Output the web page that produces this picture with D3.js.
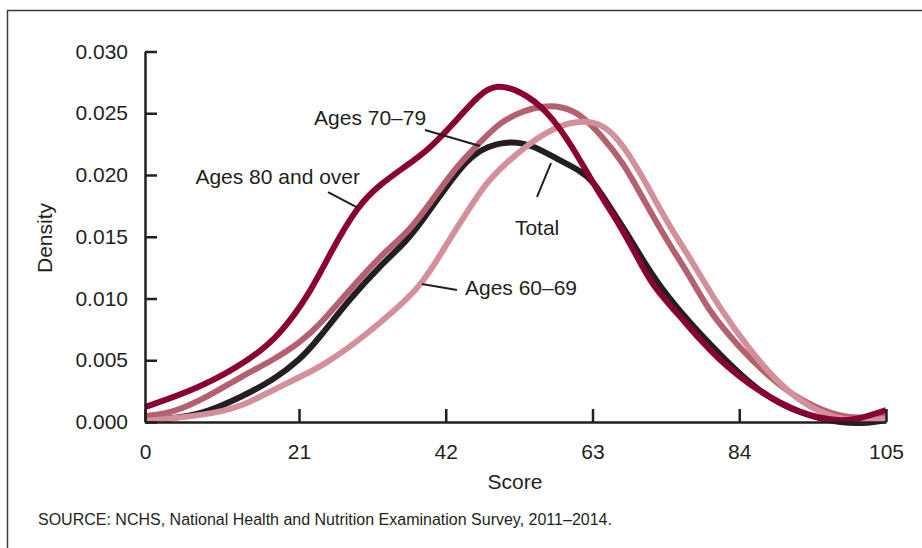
<!DOCTYPE html>
<html>
<head>
<meta charset="utf-8">
<script src="https://cdn.jsdelivr.net/npm/d3@7"></script>
<style>
  html, body { margin: 0; padding: 0; background: #fff; }
  svg { display: block; font-family: "Liberation Sans", Arial, sans-serif; }
</style>
</head>
<body>
<svg id="chart" width="922" height="548"></svg>
<script>
// ---- Data (score, density) ----
const xTicks = [0, 21, 42, 63, 84, 105];
const yTicks = [0, 0.005, 0.010, 0.015, 0.020, 0.025, 0.030];

const total = [[0,0.00008],[5.2,0.0004],[8.5,0.00081],[13.1,0.00202],[17.5,0.0034],[21.1,0.00502],[23.6,0.0066],[28.3,0.0100],[32.6,0.01265],[36.5,0.01469],[38.7,0.01636],[42.2,0.01913],[45.0,0.02121],[47.9,0.02237],[51.6,0.02277],[54.5,0.02237],[57.9,0.02131],[61.2,0.02037],[63.1,0.0195],[65.5,0.01741],[67.9,0.0153],[70.2,0.01312],[72.7,0.01093],[76.5,0.0083],[81.2,0.00547],[86.9,0.00235],[92.7,0.00065],[98.4,-0.0001],[102.7,-0.0001],[105,0.00016]];

const ages7079 = [[0,0.00049],[3.8,0.00073],[8.5,0.00202],[13.0,0.00364],[17.5,0.00502],[21.1,0.0064],[24.0,0.0079],[27.3,0.01008],[32.6,0.01346],[36.9,0.0155],[40.2,0.01808],[43.6,0.02075],[46.9,0.02263],[49.8,0.02431],[53.1,0.0252],[55.9,0.02561],[58.8,0.02553],[61.2,0.02496],[64.5,0.02308],[67.4,0.02097],[69.8,0.01854],[72.2,0.01611],[74.5,0.01393],[77.0,0.01174],[79.8,0.00883],[84.1,0.00599],[88.4,0.00356],[92.7,0.00178],[97.0,0.00065],[101.2,0.00024],[105,0.00057]];

const ages6069 = [[0,0.00008],[8.5,0.00057],[13.0,0.00121],[17.5,0.00259],[21.1,0.00364],[24.0,0.00445],[28.3,0.00607],[32.6,0.00802],[36.5,0.00995],[38.7,0.01135],[40.7,0.01305],[43.0,0.0152],[45.5,0.01741],[47.9,0.01945],[50.8,0.02107],[53.6,0.02237],[56.5,0.0235],[59.8,0.02431],[63.1,0.02439],[65.9,0.02358],[69.4,0.02065],[71.7,0.01822],[74.1,0.01579],[76.5,0.01368],[78.8,0.0115],[81.7,0.00883],[85.5,0.00583],[89.8,0.003],[94.1,0.00113],[98.4,0.00024],[101.2,0.00008],[105,0.00024]];

const ages80 = [[0,0.00121],[7.5,0.00275],[14.3,0.00502],[18.4,0.00704],[22.6,0.01045],[25.4,0.01362],[29.4,0.01753],[32.6,0.01923],[36.0,0.0206],[39.7,0.02212],[43.0,0.02409],[46.9,0.02662],[49.3,0.02734],[52.6,0.02684],[56.5,0.02526],[60.2,0.02227],[63.6,0.01879],[66.5,0.01636],[69.4,0.01336],[71.7,0.01093],[75.1,0.00883],[78.4,0.00664],[81.2,0.00502],[84.1,0.00364],[86.9,0.00251],[89.8,0.00154],[92.7,0.00081],[95.5,0.00032],[98.4,0.00008],[101.2,0.00024],[105,0.00097]];

const seriesNames  = ["Total", "Ages 70–79", "Ages 60–69", "Ages 80 and over"];
const seriesData   = [total, ages7079, ages6069, ages80];
const seriesColors = ["#231f20", "#b5606f", "#d3909a", "#8a0034"];

// Annotations: label text, label anchor (score, density), leader line ends
const annoText   = ["Ages 70–79", "Ages 80 and over", "Total", "Ages 60–69"];
const annoPos    = [[23.15, 0.02405], [29.73, 0.01927], [51.9, 0.01514], [44.75, 0.01028]];
const annoAnchor = ["start", "end", "start", "start"];
const annoLine   = [[[39.03,0.02364],[46.9,0.02235]], [[25.15,0.01862],[29.44,0.01733]], [[55.06,0.01822],[57.06,0.02097]], [[38.6,0.01117],[43.6,0.01069]]];

// ---- Drawing ----
const svg = d3.select("#chart");
const ink = "#231f20";

// frame
svg.append("rect").attr("x", 7.5).attr("y", 10.5).attr("width", 1000).attr("height", 1000)
  .attr("fill", "none").attr("stroke", "#3a3a3a").attr("stroke-width", 1.5);

const x = d3.scaleLinear().domain([0, 21, 105]).range([145, 299, 886]);
const y = d3.scaleLinear().domain([0, 0.03]).range([422, 51.5]);

// curves
const line = d3.line().x(d => x(d[0])).y(d => y(d[1])).curve(d3.curveBasis);
svg.append("g").selectAll("path").data(seriesData).join("path")
  .attr("d", line)
  .attr("fill", "none")
  .attr("stroke", (d, i) => seriesColors[i])
  .attr("stroke-width", 6)
  .attr("stroke-linejoin", "round");

// axes
const yAxis = svg.append("g").attr("transform", `translate(${x(0)},0)`)
  .call(d3.axisLeft(y).tickValues(yTicks).tickFormat(d3.format(".3f")).tickSize(-12).tickSizeOuter(0).tickPadding(17));
const xAxis = svg.append("g").attr("transform", `translate(0,${y(0)})`)
  .call(d3.axisBottom(x).tickValues(xTicks).tickFormat(d3.format("d")).tickSize(-13).tickSizeOuter(0).tickPadding(22));
[yAxis, xAxis].forEach(g => {
  g.select(".domain").attr("stroke", ink).attr("stroke-width", 2.5);
  g.selectAll(".tick line").attr("stroke", ink).attr("stroke-width", 2.5);
  g.selectAll(".tick text").attr("fill", ink).attr("font-size", 21)
    .attr("font-family", "'Liberation Sans', Arial, sans-serif");
});

// axis titles
svg.append("text").attr("x", 515).attr("y", 489).attr("text-anchor", "middle")
  .attr("font-size", 21).attr("fill", ink).text("Score");
svg.append("text").attr("transform", "translate(52,238) rotate(-90)").attr("text-anchor", "middle")
  .attr("font-size", 21).attr("fill", ink).text("Density");

// annotations
const ag = svg.append("g");
annoLine.forEach(l => {
  ag.append("line").attr("x1", x(l[0][0])).attr("y1", y(l[0][1]))
    .attr("x2", x(l[1][0])).attr("y2", y(l[1][1]))
    .attr("stroke", ink).attr("stroke-width", 2);
});
annoText.forEach((t, i) => {
  ag.append("text").attr("x", x(annoPos[i][0])).attr("y", y(annoPos[i][1]))
    .attr("text-anchor", annoAnchor[i]).attr("font-size", 21).attr("fill", ink).text(t);
});

// source
svg.append("text").attr("x", 38).attr("y", 525).attr("font-size", 16).attr("fill", ink)
  .text("SOURCE: NCHS, National Health and Nutrition Examination Survey, 2011–2014.");
</script>
</body>
</html>
